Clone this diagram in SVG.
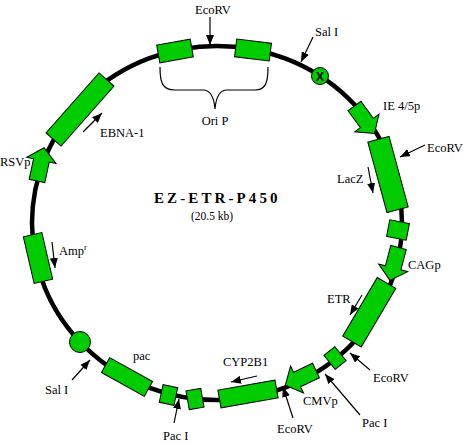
<svg xmlns="http://www.w3.org/2000/svg" width="466" height="444" viewBox="0 0 466 444">
<defs>
<marker id="ah" markerUnits="userSpaceOnUse" viewBox="0 0 10 8" refX="10" refY="4" markerWidth="10" markerHeight="8" orient="auto"><path d="M0,0 L10,4 L0,8 Z" fill="#000"/></marker>
<polygon id="pro" points="0,-8 21,-8 21,-15 34,0 21,15 21,8 0,8"/>
</defs>
<style>
.bb{fill:none;stroke:#000;stroke-width:4.5}
.f{fill:#00cc00;stroke:#000;stroke-width:1}
text{font-family:"Liberation Serif","Times New Roman",serif;font-size:12.5px;fill:#000}
text.ttl{font-size:15px;font-weight:bold;letter-spacing:3.1px}
text.sub{font-size:11.5px}
text.x{font-family:"Liberation Sans",Arial,sans-serif;font-weight:bold;font-size:12.5px}
.c line{stroke:#000;stroke-width:1.2;marker-end:url(#ah)}
.br{fill:none;stroke:#000;stroke-width:1.2}
</style>
<rect width="466" height="444" fill="#fff"/>
<g id="backbone"><ellipse class="bb" cx="217" cy="223" rx="185" ry="177"/></g>

<g id="title">
<text class="ttl" x="154" y="203">EZ-ETR-P450</text>
<text class="sub" x="191" y="220">(20.5 kb)</text>
</g>

<g id="oriP">
<rect class="f" x="-17" y="-9" width="34" height="18" transform="translate(175,51) rotate(-10)"/>
<rect class="f" x="-17.5" y="-9" width="35" height="18" transform="translate(253,50) rotate(7)"/>
<path class="br" d="M160,67 C160,82 162,90 175,90 L203,90 C211,90 214,97 215,109 C216,97 219,90 227,90 L255,90 C266,90 268,82 268,67"/>
<text x="215" y="125" text-anchor="middle">Ori P</text>
</g>

<g id="ecorv-top"><text x="195" y="13.5">EcoRV</text></g>

<g id="salI-top">
<circle class="f" cx="320" cy="76" r="8.5"/>
<text class="x" x="320" y="80.5" text-anchor="middle">X</text>
<text x="315" y="36">Sal I</text>
</g>

<g id="ie45p">
<use href="#pro" class="f" transform="translate(354.5,106) rotate(54)"/>
<text x="383" y="110">IE 4/5p</text>
</g>

<g id="lacZ">
<rect class="f" x="-36.5" y="-11" width="73" height="22" transform="translate(388,174.5) rotate(74.8)"/>
<text x="337" y="183">LacZ</text>
</g>

<g id="ecorv-right"><text x="427" y="152">EcoRV</text></g>

<g id="box-small-right">
<rect class="f" x="-10" y="-8.5" width="20" height="17" transform="translate(398,230) rotate(11)"/>
</g>

<g id="cagp">
<use href="#pro" class="f" transform="translate(398.5,247.5) rotate(104.7)"/>
<text x="408" y="269">CAGp</text>
</g>

<g id="etr">
<rect class="f" x="-34" y="-10.75" width="68" height="21.5" transform="translate(369.25,312.25) rotate(120.5)"/>
<text x="327" y="303">ETR</text>
</g>

<g id="box-ecorv">
<rect class="f" x="-7" y="-9" width="14" height="18" transform="translate(335,358) rotate(-39)"/>
<text x="373" y="382">EcoRV</text>
</g>

<g id="pacI-right"><text x="362" y="427">Pac I</text></g>

<g id="cmvp">
<use href="#pro" class="f" transform="translate(316,370.5) rotate(154.5)"/>
<text x="303" y="405">CMVp</text>
</g>

<g id="ecorv-bottom"><text x="277" y="433">EcoRV</text></g>

<g id="cyp2b1">
<rect class="f" x="-29" y="-9" width="58" height="18" transform="translate(248,394) rotate(-10)"/>
<text x="223" y="366">CYP2B1</text>
</g>

<g id="pacI-bottom">
<rect class="f" x="-7.5" y="-9.5" width="15" height="19" transform="translate(195,399) rotate(-10)"/>
<rect class="f" x="-7.5" y="-9" width="15" height="18" transform="translate(168.5,395) rotate(12)"/>
<text x="163" y="440">Pac I</text>
</g>

<g id="pac">
<rect class="f" x="-24.5" y="-8.5" width="49" height="17" transform="translate(127,377) rotate(29)"/>
<text x="133" y="360">pac</text>
</g>

<g id="salI-bottom">
<circle class="f" cx="80" cy="342" r="10.5"/>
<text x="45" y="394">Sal I</text>
</g>

<g id="ampr">
<rect class="f" x="-24" y="-9.5" width="48" height="19" transform="translate(38,258) rotate(77)"/>
<text x="59" y="255">Amp<tspan font-size="8.5" dy="-5">r</tspan></text>
</g>

<g id="rsvp">
<use href="#pro" class="f" transform="translate(37,181) rotate(-78)"/>
<text x="0" y="166">RSVp</text>
</g>

<g id="ebna1">
<rect class="f" x="-40" y="-10" width="80" height="20" transform="translate(80,109.5) rotate(-48.5)"/>
<text x="100" y="137">EBNA-1</text>
</g>

<g id="connectors" class="c">
<line x1="210" y1="17" x2="210" y2="45"/>
<line x1="313" y1="37" x2="301" y2="62"/>
<line x1="425" y1="145" x2="400" y2="157"/>
<line x1="368" y1="167" x2="373" y2="193"/>
<line x1="362" y1="295" x2="350" y2="315"/>
<line x1="370" y1="370" x2="350" y2="353"/>
<line x1="360" y1="415" x2="325" y2="374"/>
<line x1="293" y1="418" x2="283" y2="387"/>
<line x1="257" y1="376" x2="231" y2="382"/>
<line x1="174" y1="423" x2="179" y2="399"/>
<line x1="72" y1="380" x2="90" y2="360"/>
<line x1="52" y1="242" x2="55" y2="268"/>
<line x1="83" y1="132" x2="102" y2="113"/>
</g>
</svg>
